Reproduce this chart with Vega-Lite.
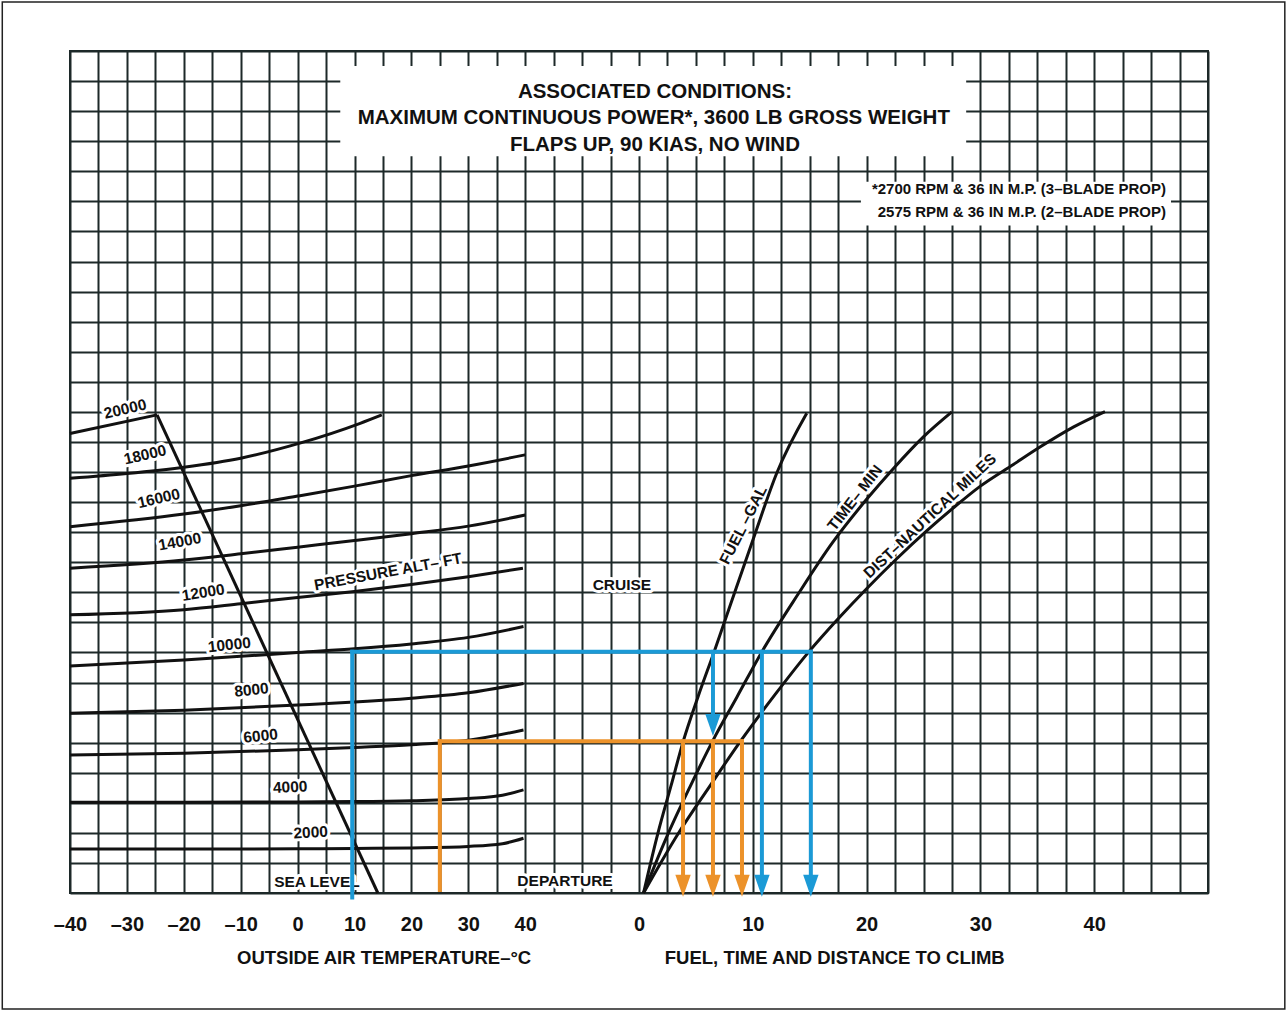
{
  "$schema": "https://vega.github.io/schema/vega-lite/v6.json",
  "width": 1138,
  "height": 842,
  "autosize": {"type": "none"},
  "padding": {"left": 70, "top": 51, "right": 79, "bottom": 118},
  "background": "white",
  "config": {
    "view": {"stroke": "#1d2929", "strokeWidth": 2},
    "font": "Liberation Sans"
  },
  "datasets": {
    "alt": [
      {"alt": "20000", "t": -40, "y": 15.28}, {"alt": "20000", "t": -24.7, "y": 15.9},
      {"alt": "18000", "t": -40, "y": 13.79}, {"alt": "18000", "t": -30, "y": 13.95}, {"alt": "18000", "t": -20, "y": 14.16}, {"alt": "18000", "t": -10, "y": 14.46}, {"alt": "18000", "t": 0.4, "y": 14.96}, {"alt": "18000", "t": 11, "y": 15.62}, {"alt": "18000", "t": 14.8, "y": 15.9},
      {"alt": "16000", "t": -40, "y": 12.18}, {"alt": "16000", "t": -20, "y": 12.6}, {"alt": "16000", "t": -10, "y": 12.88}, {"alt": "16000", "t": 0, "y": 13.2}, {"alt": "16000", "t": 10, "y": 13.53}, {"alt": "16000", "t": 20, "y": 13.88}, {"alt": "16000", "t": 30, "y": 14.2}, {"alt": "16000", "t": 40, "y": 14.57},
      {"alt": "14000", "t": -40, "y": 10.8}, {"alt": "14000", "t": -20, "y": 11.07}, {"alt": "14000", "t": -10, "y": 11.28}, {"alt": "14000", "t": 0, "y": 11.5}, {"alt": "14000", "t": 10, "y": 11.72}, {"alt": "14000", "t": 20, "y": 11.95}, {"alt": "14000", "t": 30, "y": 12.2}, {"alt": "14000", "t": 40, "y": 12.57},
      {"alt": "12000", "t": -40, "y": 9.25}, {"alt": "12000", "t": -20, "y": 9.42}, {"alt": "12000", "t": -10, "y": 9.62}, {"alt": "12000", "t": 0, "y": 9.83}, {"alt": "12000", "t": 10, "y": 10.03}, {"alt": "12000", "t": 20, "y": 10.26}, {"alt": "12000", "t": 30, "y": 10.52}, {"alt": "12000", "t": 39.6, "y": 10.8},
      {"alt": "10000", "t": -40, "y": 7.55}, {"alt": "10000", "t": -20, "y": 7.75}, {"alt": "10000", "t": -10, "y": 7.87}, {"alt": "10000", "t": 0, "y": 8.0}, {"alt": "10000", "t": 10, "y": 8.12}, {"alt": "10000", "t": 20, "y": 8.28}, {"alt": "10000", "t": 30, "y": 8.5}, {"alt": "10000", "t": 39.7, "y": 8.86},
      {"alt": "8000", "t": -40, "y": 5.98}, {"alt": "8000", "t": -20, "y": 6.08}, {"alt": "8000", "t": 0, "y": 6.25}, {"alt": "8000", "t": 10, "y": 6.35}, {"alt": "8000", "t": 20, "y": 6.48}, {"alt": "8000", "t": 30, "y": 6.66}, {"alt": "8000", "t": 39.7, "y": 6.97},
      {"alt": "6000", "t": -40, "y": 4.59}, {"alt": "6000", "t": -20, "y": 4.65}, {"alt": "6000", "t": 0, "y": 4.76}, {"alt": "6000", "t": 10, "y": 4.84}, {"alt": "6000", "t": 20, "y": 4.93}, {"alt": "6000", "t": 30, "y": 5.08}, {"alt": "6000", "t": 39.7, "y": 5.42},
      {"alt": "4000", "t": -40, "y": 3.02}, {"alt": "4000", "t": -20, "y": 3.02}, {"alt": "4000", "t": 0, "y": 3.03}, {"alt": "4000", "t": 10, "y": 3.04}, {"alt": "4000", "t": 20, "y": 3.07}, {"alt": "4000", "t": 30, "y": 3.14}, {"alt": "4000", "t": 36, "y": 3.25}, {"alt": "4000", "t": 39.7, "y": 3.43},
      {"alt": "2000", "t": -40, "y": 1.46}, {"alt": "2000", "t": -20, "y": 1.46}, {"alt": "2000", "t": 0, "y": 1.47}, {"alt": "2000", "t": 10, "y": 1.48}, {"alt": "2000", "t": 20, "y": 1.5}, {"alt": "2000", "t": 30, "y": 1.55}, {"alt": "2000", "t": 36, "y": 1.64}, {"alt": "2000", "t": 39.7, "y": 1.82}
    ],
    "isa": [{"t": -24.7, "y": 15.9}, {"t": 14.1, "y": 0}],
    "climb": [
      {"curve": "FUEL", "v": 0.4, "y": 0}, {"curve": "FUEL", "v": 1.67, "y": 2.0}, {"curve": "FUEL", "v": 2.81, "y": 3.56}, {"curve": "FUEL", "v": 3.89, "y": 5.05}, {"curve": "FUEL", "v": 5.18, "y": 6.52}, {"curve": "FUEL", "v": 6.59, "y": 8.01}, {"curve": "FUEL", "v": 8.55, "y": 10.15}, {"curve": "FUEL", "v": 10.2, "y": 11.95}, {"curve": "FUEL", "v": 12.1, "y": 13.96}, {"curve": "FUEL", "v": 14.74, "y": 15.95},
      {"curve": "TIME", "v": 0.4, "y": 0}, {"curve": "TIME", "v": 2.57, "y": 1.98}, {"curve": "TIME", "v": 4.48, "y": 3.53}, {"curve": "TIME", "v": 6.48, "y": 5.06}, {"curve": "TIME", "v": 8.61, "y": 6.52}, {"curve": "TIME", "v": 10.78, "y": 8.01}, {"curve": "TIME", "v": 14.0, "y": 9.95}, {"curve": "TIME", "v": 17.0, "y": 11.65}, {"curve": "TIME", "v": 20.02, "y": 13.1}, {"curve": "TIME", "v": 22.36, "y": 14.12}, {"curve": "TIME", "v": 24.99, "y": 15.17}, {"curve": "TIME", "v": 27.49, "y": 16.0},
      {"curve": "DIST", "v": 0.4, "y": 0}, {"curve": "DIST", "v": 3.45, "y": 1.98}, {"curve": "DIST", "v": 6.18, "y": 3.53}, {"curve": "DIST", "v": 8.94, "y": 5.06}, {"curve": "DIST", "v": 12.0, "y": 6.62}, {"curve": "DIST", "v": 14.9, "y": 8.01}, {"curve": "DIST", "v": 17.5, "y": 9.12}, {"curve": "DIST", "v": 20.0, "y": 10.12}, {"curve": "DIST", "v": 22.6, "y": 11.1}, {"curve": "DIST", "v": 25.3, "y": 12.05}, {"curve": "DIST", "v": 27.6, "y": 12.8}, {"curve": "DIST", "v": 30.0, "y": 13.53}, {"curve": "DIST", "v": 32.9, "y": 14.25}, {"curve": "DIST", "v": 35.2, "y": 14.82}, {"curve": "DIST", "v": 38.2, "y": 15.5}, {"curve": "DIST", "v": 40.95, "y": 16.01}
    ],
    "labelsL": [
      {"label": "20000", "t": -30.3, "y": 16.09},
      {"label": "18000", "t": -26.8, "y": 14.57},
      {"label": "16000", "t": -24.4, "y": 13.12},
      {"label": "14000", "t": -20.7, "y": 11.68},
      {"label": "PRESSURE ALT– FT", "t": 15.9, "y": 10.68},
      {"label": "12000", "t": -16.6, "y": 9.99},
      {"label": "10000", "t": -12.0, "y": 8.25},
      {"label": "8000", "t": -8.1, "y": 6.75},
      {"label": "6000", "t": -6.5, "y": 5.22},
      {"label": "4000", "t": -1.3, "y": 3.52},
      {"label": "2000", "t": 2.3, "y": 2.01},
      {"label": "SEA LEVEL", "t": 3.4, "y": 0.37},
      {"label": "CRUISE", "t": 57.0, "y": 10.24},
      {"label": "DEPARTURE", "t": 47.0, "y": 0.4}
    ],
    "labelsR": [
      {"label": "FUEL –GAL", "v": 9.17, "y": 12.24},
      {"label": "TIME– MIN", "v": 18.98, "y": 13.14},
      {"label": "DIST–NAUTICAL MILES", "v": 25.57, "y": 12.54}
    ],
    "guidesL": [
      {"leg": "cruise", "t": 9.6, "t2": 9.6, "y": -0.15, "y2": 8.02},
      {"leg": "cruise", "t": 9.6, "t2": 60, "y": 8.02, "y2": 8.02},
      {"leg": "departure", "t": 25, "t2": 25, "y": 0.1, "y2": 5.05},
      {"leg": "departure", "t": 25, "t2": 60, "y": 5.05, "y2": 5.05}
    ],
    "guidesR": [
      {"leg": "cruise", "v": 0, "v2": 15.1, "y": 8.02, "y2": 8.02},
      {"leg": "cruise", "v": 6.5, "v2": 6.5, "y": 8.02, "y2": 5.7},
      {"leg": "cruise", "v": 10.8, "v2": 10.8, "y": 8.02, "y2": 0.3},
      {"leg": "cruise", "v": 15.1, "v2": 15.1, "y": 8.02, "y2": 0.3},
      {"leg": "departure", "v": 0, "v2": 9.05, "y": 5.05, "y2": 5.05},
      {"leg": "departure", "v": 3.87, "v2": 3.87, "y": 5.05, "y2": 0.3},
      {"leg": "departure", "v": 6.5, "v2": 6.5, "y": 5.05, "y2": 0.3},
      {"leg": "departure", "v": 9.05, "v2": 9.05, "y": 5.05, "y2": 0.3}
    ],
    "heads": [
      {"leg": "cruise", "v": 6.5, "y": 5.59},
      {"leg": "cruise", "v": 10.8, "y": 0.24},
      {"leg": "cruise", "v": 15.1, "y": 0.24},
      {"leg": "departure", "v": 3.87, "y": 0.24},
      {"leg": "departure", "v": 6.5, "y": 0.24},
      {"leg": "departure", "v": 9.05, "y": 0.24}
    ],
    "title": [
      {"label": "ASSOCIATED CONDITIONS:", "t": 62.8, "y": 26.64},
      {"label": "MAXIMUM CONTINUOUS POWER*, 3600 LB GROSS WEIGHT", "t": 62.6, "y": 25.77},
      {"label": "FLAPS UP, 90 KIAS, NO WIND", "t": 62.8, "y": 24.88}
    ],
    "note": [
      {"label": "*2700 RPM & 36 IN M.P. (3–BLADE PROP)", "t": 152.6, "y": 23.41},
      {"label": "2575 RPM & 36 IN M.P. (2–BLADE PROP)", "t": 152.6, "y": 22.65}
    ]
  },
  "encoding": {
    "y": {
      "field": "y", "type": "quantitative",
      "scale": {"domain": [0, 28], "nice": false, "zero": false},
      "axis": {"values": [0,1,2,3,4,5,6,7,8,9,10,11,12,13,14,15,16,17,18,19,20,21,22,23,24,25,26,27,28], "grid": true, "gridColor": "#1d2929", "gridWidth": 2, "gridOpacity": 1, "labels": false, "ticks": false, "domain": false, "title": null}
    }
  },
  "layer": [
    {
      "encoding": {
        "x": {
          "field": "t", "type": "quantitative",
          "scale": {"domain": [-40, 160], "nice": false, "zero": false},
          "axis": {
            "values": [-40,-35,-30,-25,-20,-15,-10,-5,0,5,10,15,20,25,30,35,40,45,50,55,60,65,70,75,80,85,90,95,100,105,110,115,120,125,130,135,140,145,150,155,160],
            "grid": true, "gridColor": "#1d2929", "gridWidth": 2, "gridOpacity": 1,
            "ticks": false, "domain": false, "title": null,
            "labelExpr": "datum.value <= 40 && datum.value % 10 == 0 ? (datum.value < 0 ? '–' + (-datum.value) : '' + datum.value) : (datum.value >= 60 && datum.value <= 140 && datum.value % 20 == 0 ? '' + (datum.value - 60) / 2 : '')",
            "labelFont": "Liberation Sans", "labelFontSize": 20, "labelFontWeight": "bold", "labelColor": "#111",
            "labelPadding": 21, "labelOverlap": false, "labelFlush": false, "labelBound": false
          }
        }
      },
      "layer": [
        {
          "data": {"values": [{"box": "frame", "t": -51.9, "t2": 173.5, "y": 29.63, "y2": -3.86}]},
          "mark": {"type": "rect", "fill": null, "fillOpacity": 0, "stroke": "#222", "strokeWidth": 1.5},
          "encoding": {"x2": {"field": "t2"}, "y2": {"field": "y2"}}
        },
        {
          "data": {"values": [{"box": "title", "t": 7.5, "t2": 117.5, "y": 24.5, "y2": 27.5}, {"box": "note", "t": 99, "t2": 153.5, "y": 22.2, "y2": 23.65}]},
          "mark": {"type": "rect", "fill": "white", "strokeWidth": 0},
          "encoding": {"x2": {"field": "t2"}, "y2": {"field": "y2"}}
        },
        {
          "data": {"name": "labelsL"},
          "transform": [{"filter": {"field": "label", "oneOf": ["20000", "18000", "16000"]}}],
          "encoding": {"text": {"field": "label"}},
          "layer": [
            {"mark": {"type": "text", "angle": -13, "fontSize": 15.5, "fontWeight": "bold", "font": "Liberation Sans", "fill": "white", "stroke": "white", "strokeWidth": 6, "strokeJoin": "round"}},
            {"mark": {"type": "text", "angle": -13, "fontSize": 15.5, "fontWeight": "bold", "font": "Liberation Sans", "fill": "#111"}}
          ]
        },
        {
          "data": {"name": "labelsL"},
          "transform": [{"filter": {"field": "label", "oneOf": ["14000", "PRESSURE ALT– FT"]}}],
          "encoding": {"text": {"field": "label"}},
          "layer": [
            {"mark": {"type": "text", "angle": -10.5, "fontSize": 15.5, "fontWeight": "bold", "font": "Liberation Sans", "fill": "white", "stroke": "white", "strokeWidth": 6, "strokeJoin": "round"}},
            {"mark": {"type": "text", "angle": -10.5, "fontSize": 15.5, "fontWeight": "bold", "font": "Liberation Sans", "fill": "#111"}}
          ]
        },
        {
          "data": {"name": "labelsL"},
          "transform": [{"filter": {"field": "label", "oneOf": ["12000"]}}],
          "encoding": {"text": {"field": "label"}},
          "layer": [
            {"mark": {"type": "text", "angle": -9, "fontSize": 15.5, "fontWeight": "bold", "font": "Liberation Sans", "fill": "white", "stroke": "white", "strokeWidth": 6, "strokeJoin": "round"}},
            {"mark": {"type": "text", "angle": -9, "fontSize": 15.5, "fontWeight": "bold", "font": "Liberation Sans", "fill": "#111"}}
          ]
        },
        {
          "data": {"name": "labelsL"},
          "transform": [{"filter": {"field": "label", "oneOf": ["10000", "8000", "6000"]}}],
          "encoding": {"text": {"field": "label"}},
          "layer": [
            {"mark": {"type": "text", "angle": -6, "fontSize": 15.5, "fontWeight": "bold", "font": "Liberation Sans", "fill": "white", "stroke": "white", "strokeWidth": 6, "strokeJoin": "round"}},
            {"mark": {"type": "text", "angle": -6, "fontSize": 15.5, "fontWeight": "bold", "font": "Liberation Sans", "fill": "#111"}}
          ]
        },
        {
          "data": {"name": "labelsL"},
          "transform": [{"filter": {"field": "label", "oneOf": ["4000", "2000"]}}],
          "encoding": {"text": {"field": "label"}},
          "layer": [
            {"mark": {"type": "text", "angle": -3, "fontSize": 15.5, "fontWeight": "bold", "font": "Liberation Sans", "fill": "white", "stroke": "white", "strokeWidth": 6, "strokeJoin": "round"}},
            {"mark": {"type": "text", "angle": -3, "fontSize": 15.5, "fontWeight": "bold", "font": "Liberation Sans", "fill": "#111"}}
          ]
        },
        {
          "data": {"name": "labelsL"},
          "transform": [{"filter": {"field": "label", "oneOf": ["SEA LEVEL", "CRUISE", "DEPARTURE"]}}],
          "encoding": {"text": {"field": "label"}},
          "layer": [
            {"mark": {"type": "text", "angle": 0, "fontSize": 15.5, "fontWeight": "bold", "font": "Liberation Sans", "fill": "white", "stroke": "white", "strokeWidth": 6, "strokeJoin": "round"}},
            {"mark": {"type": "text", "angle": 0, "fontSize": 15.5, "fontWeight": "bold", "font": "Liberation Sans", "fill": "#111"}}
          ]
        },
        {
          "data": {"name": "alt"},
          "mark": {"type": "line", "color": "#111", "strokeWidth": 3, "interpolate": "monotone"},
          "encoding": {"detail": {"field": "alt"}}
        },
        {
          "data": {"name": "isa"},
          "mark": {"type": "line", "color": "#111", "strokeWidth": 3},
          "encoding": {}
        },
        {
          "data": {"name": "title"},
          "mark": {"type": "text", "fontSize": 20.5, "fontWeight": "bold", "font": "Liberation Sans", "fill": "#111"},
          "encoding": {"text": {"field": "label"}}
        },
        {
          "data": {"name": "note"},
          "mark": {"type": "text", "fontSize": 15, "fontWeight": "bold", "font": "Liberation Sans", "fill": "#111", "align": "right"},
          "encoding": {"text": {"field": "label"}}
        },
        {
          "data": {"values": [{"label": "OUTSIDE AIR TEMPERATURE–°C", "t": 15.2, "y": -2.16}]},
          "mark": {"type": "text", "fontSize": 18.5, "fontWeight": "bold", "font": "Liberation Sans", "fill": "#111"},
          "encoding": {"text": {"field": "label"}}
        },
        {
          "data": {"name": "guidesL"},
          "mark": {"type": "rule", "strokeWidth": 4, "strokeCap": "square"},
          "encoding": {
            "x2": {"field": "t2"}, "y2": {"field": "y2"},
            "color": {"field": "leg", "type": "nominal", "scale": {"domain": ["cruise", "departure"], "range": ["#1b9ad6", "#ec922a"]}, "legend": null}
          }
        }
      ]
    },
    {
      "encoding": {
        "x": {"field": "v", "type": "quantitative", "scale": {"domain": [-50, 50], "nice": false, "zero": false}, "axis": null}
      },
      "layer": [
        {
          "data": {"name": "labelsR"},
          "transform": [{"filter": {"field": "label", "oneOf": ["FUEL –GAL"]}}],
          "encoding": {"text": {"field": "label"}},
          "layer": [
            {"mark": {"type": "text", "angle": -63, "fontSize": 15.5, "fontWeight": "bold", "font": "Liberation Sans", "fill": "white", "stroke": "white", "strokeWidth": 6, "strokeJoin": "round"}},
            {"mark": {"type": "text", "angle": -63, "fontSize": 15.5, "fontWeight": "bold", "font": "Liberation Sans", "fill": "#111"}}
          ]
        },
        {
          "data": {"name": "labelsR"},
          "transform": [{"filter": {"field": "label", "oneOf": ["TIME– MIN"]}}],
          "encoding": {"text": {"field": "label"}},
          "layer": [
            {"mark": {"type": "text", "angle": -52, "fontSize": 15.5, "fontWeight": "bold", "font": "Liberation Sans", "fill": "white", "stroke": "white", "strokeWidth": 6, "strokeJoin": "round"}},
            {"mark": {"type": "text", "angle": -52, "fontSize": 15.5, "fontWeight": "bold", "font": "Liberation Sans", "fill": "#111"}}
          ]
        },
        {
          "data": {"name": "labelsR"},
          "transform": [{"filter": {"field": "label", "oneOf": ["DIST–NAUTICAL MILES"]}}],
          "encoding": {"text": {"field": "label"}},
          "layer": [
            {"mark": {"type": "text", "angle": -43, "fontSize": 15.5, "fontWeight": "bold", "font": "Liberation Sans", "fill": "white", "stroke": "white", "strokeWidth": 6, "strokeJoin": "round"}},
            {"mark": {"type": "text", "angle": -43, "fontSize": 15.5, "fontWeight": "bold", "font": "Liberation Sans", "fill": "#111"}}
          ]
        },
        {
          "data": {"name": "climb"},
          "mark": {"type": "line", "color": "#111", "strokeWidth": 3, "interpolate": "monotone"},
          "encoding": {"detail": {"field": "curve"}}
        },
        {
          "data": {"name": "guidesR"},
          "mark": {"type": "rule", "strokeWidth": 4, "strokeCap": "square"},
          "encoding": {
            "x2": {"field": "v2"}, "y2": {"field": "y2"},
            "color": {"field": "leg", "type": "nominal", "scale": {"domain": ["cruise", "departure"], "range": ["#1b9ad6", "#ec922a"]}, "legend": null}
          }
        },
        {
          "data": {"name": "heads"},
          "mark": {"type": "point", "shape": "M-0.7,-1L0.7,-1L0,1Z", "size": 484, "filled": true, "opacity": 1, "strokeWidth": 0},
          "encoding": {
            "color": {"field": "leg", "type": "nominal", "scale": {"domain": ["cruise", "departure"], "range": ["#1b9ad6", "#ec922a"]}, "legend": null}
          }
        },
        {
          "data": {"values": [{"label": "FUEL, TIME AND DISTANCE TO CLIMB", "v": 17.2, "y": -2.16}]},
          "mark": {"type": "text", "fontSize": 18.5, "fontWeight": "bold", "font": "Liberation Sans", "fill": "#111"},
          "encoding": {"text": {"field": "label"}}
        }
      ]
    }
  ],
  "resolve": {"scale": {"x": "independent"}, "axis": {"x": "independent"}}
}
